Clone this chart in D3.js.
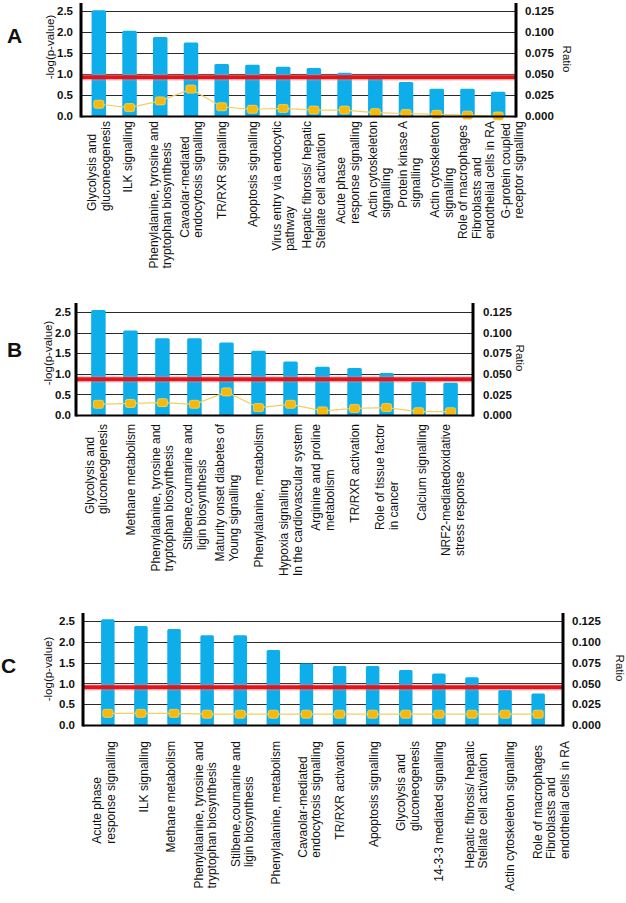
<!DOCTYPE html>
<html>
<head>
<meta charset="utf-8">
<script src="https://cdn.jsdelivr.net/npm/d3@7"></script>
<style>
  html, body { margin: 0; padding: 0; background: #fff; }
  svg { display: block; }
  text { font-family: "Liberation Sans", Arial, sans-serif; }
</style>
</head>
<body>
<svg id="chart" width="626" height="903"></svg>
<script>
// ---------------- DATA ----------------
const catsA = [
  "Glycolysis and\ngluconeogenesis",
  "ILK signalling",
  "Phenylalanine, tyrosine and\ntryptophan biosynthesis",
  "Cavaolar-mediated\nendocytosis signalling",
  "TR/RXR  signalling",
  "Apoptosis signalling",
  "Virus entry via endocytic\npathway",
  "Hepatic fibrosis/ hepatic\nStellate cell activation",
  "Acute phase\nresponse signalling",
  "Actin cytoskeleton\nsignalling",
  "Protein kinase A\nsignalling",
  "Actin cytoskeleton\nsignalling",
  "Role of macrophages\nFibroblasts and\nendothelial cells in RA",
  "G-protein coupled\nreceptor signalling"
];
const pvalA = [2.52, 2.03, 1.88, 1.75, 1.24, 1.22, 1.17, 1.14, 1.03, 0.92, 0.81, 0.65, 0.65, 0.58];
const ratioA = [0.014, 0.010, 0.018, 0.032, 0.011, 0.008, 0.009, 0.007, 0.007, 0.004, 0.003, 0.002, 0.001, 0.000];

const catsB = [
  "Glycolysis and\ngluconeogenesis",
  "Methane metabolism",
  "Phenylalanine, tyrosine and\ntryptophan biosynthesis",
  "Stilbene,coumarine and\nligin biosynthesis",
  "Maturity onset diabetes of\nYoung signalling",
  "Phenylalanine, metabolism",
  "Hypoxia  signalling\nIn the cardiovascular system",
  "Arginine and proline\nmetabolism",
  "TR/RXR  activation",
  "Role of tissue factor\nin cancer",
  "Calcium signalling",
  "NRF2-mediatedoxidative\nstress response"
];
const pvalB = [2.55, 2.05, 1.86, 1.86, 1.76, 1.56, 1.30, 1.17, 1.14, 1.02, 0.81, 0.78];
const ratioB = [0.013, 0.014, 0.015, 0.013, 0.028, 0.009, 0.013, 0.005, 0.008, 0.009, 0.004, 0.004];

const catsC = [
  "Acute phase\nresponse signalling",
  "ILK signalling",
  "Methane metabolism",
  "Phenylalanine, tyrosine and\ntryptophan biosynthesis",
  "Stilbene,coumarine and\nligin biosynthesis",
  "Phenylalanine, metabolism",
  "Cavaolar-mediated\nendocytosis signalling",
  "TR/RXR  activation",
  "Apoptosis signalling",
  "Glycolysis and\ngluconeogenesis",
  "14-3-3 mediated signalling",
  "Hepatic fibrosis/ hepatic\nStellate cell activation",
  "Actin cytoskeleton signalling",
  "Role of macrophages\nFibroblasts and\nendothelial cells in RA"
];
const pvalC = [2.54, 2.38, 2.31, 2.16, 2.16, 1.80, 1.48, 1.42, 1.42, 1.32, 1.24, 1.15, 0.84, 0.76];
const ratioC = [0.014, 0.014, 0.014, 0.013, 0.013, 0.013, 0.013, 0.013, 0.013, 0.013, 0.013, 0.013, 0.013, 0.013];

const panelLetters = ["A", "B", "C"];
const thresholds = [0.92, 0.87, 0.91];
const leftTicks = [0, 0.5, 1.0, 1.5, 2.0, 2.5];
const rightTicks = [0, 0.025, 0.05, 0.075, 0.1, 0.125];
const leftMax = 2.5, rightMax = 0.125;
const yTitle = "-log(p-value)";
const rTitle = "Ratio";

// ---------------- LAYOUT ----------------
const layout = [
  {left: 81, right: 516, yTop: 11, y0: 116, axisTop: 3, labelTop: 121, letter: [7, 43], yT: [50, 47], rT: [567, 59], lPad: 8, rPad: 9, barW: 14.5, pad: 0.58,
   labelDx: [0, -2, 0, 0, 0, 0, 0, 0, 3, 4, 3, 5, 9, 14]},
  {left: 76, right: 473, yTop: 312, y0: 415, axisTop: 303, labelTop: 424, letter: [7, 357], yT: [48, 353], rT: [520, 358], lPad: 5, rPad: 10, barW: 14.5, pad: 0.7,
   labelDx: [-2, 0, 0, 0, 0, 0, 0, 0, 0, 0, 3, 2]},
  {left: 83, right: 563, yTop: 621, y0: 725, axisTop: 613, labelTop: 741, letter: [1, 673], yT: [48, 669], rT: [620, 668], lPad: 8, rPad: 9, barW: 13.5, pad: 0.75,
   labelDx: [-4, 3, -3, -2, 2, 2, 3, 0, 1, 2, 0, 4, 5, 13]}
];

const panels = [
  {cats: catsA, pval: pvalA, ratio: ratioA},
  {cats: catsB, pval: pvalB, ratio: ratioB},
  {cats: catsC, pval: pvalC, ratio: ratioC}
];

const COLORS = {bar: "#0daeea", red: "#e3141c", marker: "#f6b90a", markerStroke: "#f9d46a", line: "#f5cf5a", grid: "#2a2a2a"};

const svg = d3.select("#chart");

panels.forEach((p, pi) => {
  const L = layout[pi];
  const g = svg.append("g");
  const n = p.cats.length;
  const x = d3.scalePoint().domain(d3.range(n)).range([L.left, L.right]).padding(L.pad);
  const y = d3.scaleLinear().domain([0, leftMax]).range([L.y0, L.yTop]);
  const yr = d3.scaleLinear().domain([0, rightMax]).range([L.y0, L.yTop]);

  // gridlines
  g.append("g").selectAll("line").data(leftTicks.filter(t => t > 0)).join("line")
    .attr("x1", L.left).attr("x2", L.right)
    .attr("y1", d => Math.round(y(d)) + 0.5).attr("y2", d => Math.round(y(d)) + 0.5)
    .attr("stroke", COLORS.grid).attr("stroke-width", 1.1);

  // bars
  g.append("g").selectAll("rect").data(p.pval).join("rect")
    .attr("x", (d, i) => x(i) - L.barW / 2)
    .attr("y", d => y(d))
    .attr("width", L.barW)
    .attr("height", d => y(0) - y(d) + 1)
    .attr("rx", 1.5)
    .attr("fill", COLORS.bar);

  // threshold line
  const ty = y(thresholds[pi]);
  g.append("line").attr("x1", L.left).attr("x2", L.right).attr("y1", ty).attr("y2", ty)
    .attr("stroke", "#f08a8e").attr("stroke-width", 7).attr("opacity", 0.35);
  g.append("line").attr("x1", L.left).attr("x2", L.right).attr("y1", ty).attr("y2", ty)
    .attr("stroke", COLORS.red).attr("stroke-width", 4);

  // ratio line + markers
  const line = d3.line().x((d, i) => x(i)).y(d => yr(d));
  g.append("path").datum(p.ratio).attr("d", line)
    .attr("fill", "none").attr("stroke", COLORS.line).attr("stroke-width", 1.2);
  g.append("g").selectAll("rect").data(p.ratio).join("rect")
    .attr("x", (d, i) => x(i) - 5).attr("y", d => yr(d) - 4)
    .attr("width", 10).attr("height", 8).attr("rx", 1.8)
    .attr("fill", COLORS.marker).attr("stroke", COLORS.markerStroke).attr("stroke-width", 0.8);

  // axes frame lines
  g.append("line").attr("x1", L.left).attr("x2", L.right).attr("y1", L.y0 + 0.5).attr("y2", L.y0 + 0.5)
    .attr("stroke", "#000").attr("stroke-width", 2);
  g.append("line").attr("x1", L.left).attr("x2", L.left).attr("y1", L.axisTop).attr("y2", L.y0 + 1.5)
    .attr("stroke", "#000").attr("stroke-width", 3);
  g.append("line").attr("x1", L.right).attr("x2", L.right).attr("y1", L.axisTop).attr("y2", L.y0 + 1.5)
    .attr("stroke", "#000").attr("stroke-width", 3);

  // left axis labels
  const ax = g.append("g").attr("transform", `translate(${L.left},0)`)
    .call(d3.axisLeft(y).tickValues(leftTicks).tickFormat(d3.format(".1f")).tickSize(0).tickPadding(L.lPad));
  ax.select(".domain").remove();
  ax.selectAll("text").attr("font-size", 11.5).attr("font-weight", "bold").attr("fill", "#111")
    .attr("font-family", "Liberation Sans, Arial, sans-serif");

  // right axis labels
  const axr = g.append("g").attr("transform", `translate(${L.right},0)`)
    .call(d3.axisRight(yr).tickValues(rightTicks).tickFormat(d3.format(".3f")).tickSize(0).tickPadding(L.rPad));
  axr.select(".domain").remove();
  axr.selectAll("text").attr("font-size", 11.5).attr("font-weight", "bold").attr("fill", "#111")
    .attr("font-family", "Liberation Sans, Arial, sans-serif");

  // titles
  g.append("text").attr("transform", `translate(${L.yT[0]},${L.yT[1]}) rotate(-90)`)
    .attr("text-anchor", "middle").attr("dy", "0.35em").attr("font-size", 11.5).attr("fill", "#111")
    .text(yTitle);
  g.append("text").attr("transform", `translate(${L.rT[0]},${L.rT[1]}) rotate(90)`)
    .attr("text-anchor", "middle").attr("dy", "0.35em").attr("font-size", 11.5).attr("fill", "#111")
    .text(rTitle);
  g.append("text").attr("x", L.letter[0]).attr("y", L.letter[1])
    .attr("font-size", 21).attr("font-weight", "bold").attr("fill", "#111")
    .text(panelLetters[pi]);

  // category labels (rotated, lines bottom-aligned)
  const lineH = 13.5;
  p.cats.forEach((c, i) => {
    const lines = c.split("\n");
    const cx = x(i) + L.labelDx[i];
    const lg = g.append("g").attr("transform", `translate(${cx},${L.labelTop}) rotate(-90)`);
    const texts = lines.map((t, k) => lg.append("text")
      .attr("y", (k - (lines.length - 1) / 2) * lineH + 4.3)
      .attr("font-size", 12).attr("fill", "#111")
      .attr("text-anchor", "start")
      .text(t));
    const lens = texts.map(t => t.node().getComputedTextLength());
    const maxLen = d3.max(lens);
    texts.forEach(t => t.attr("x", -maxLen));
  });
});
</script>
</body>
</html>
